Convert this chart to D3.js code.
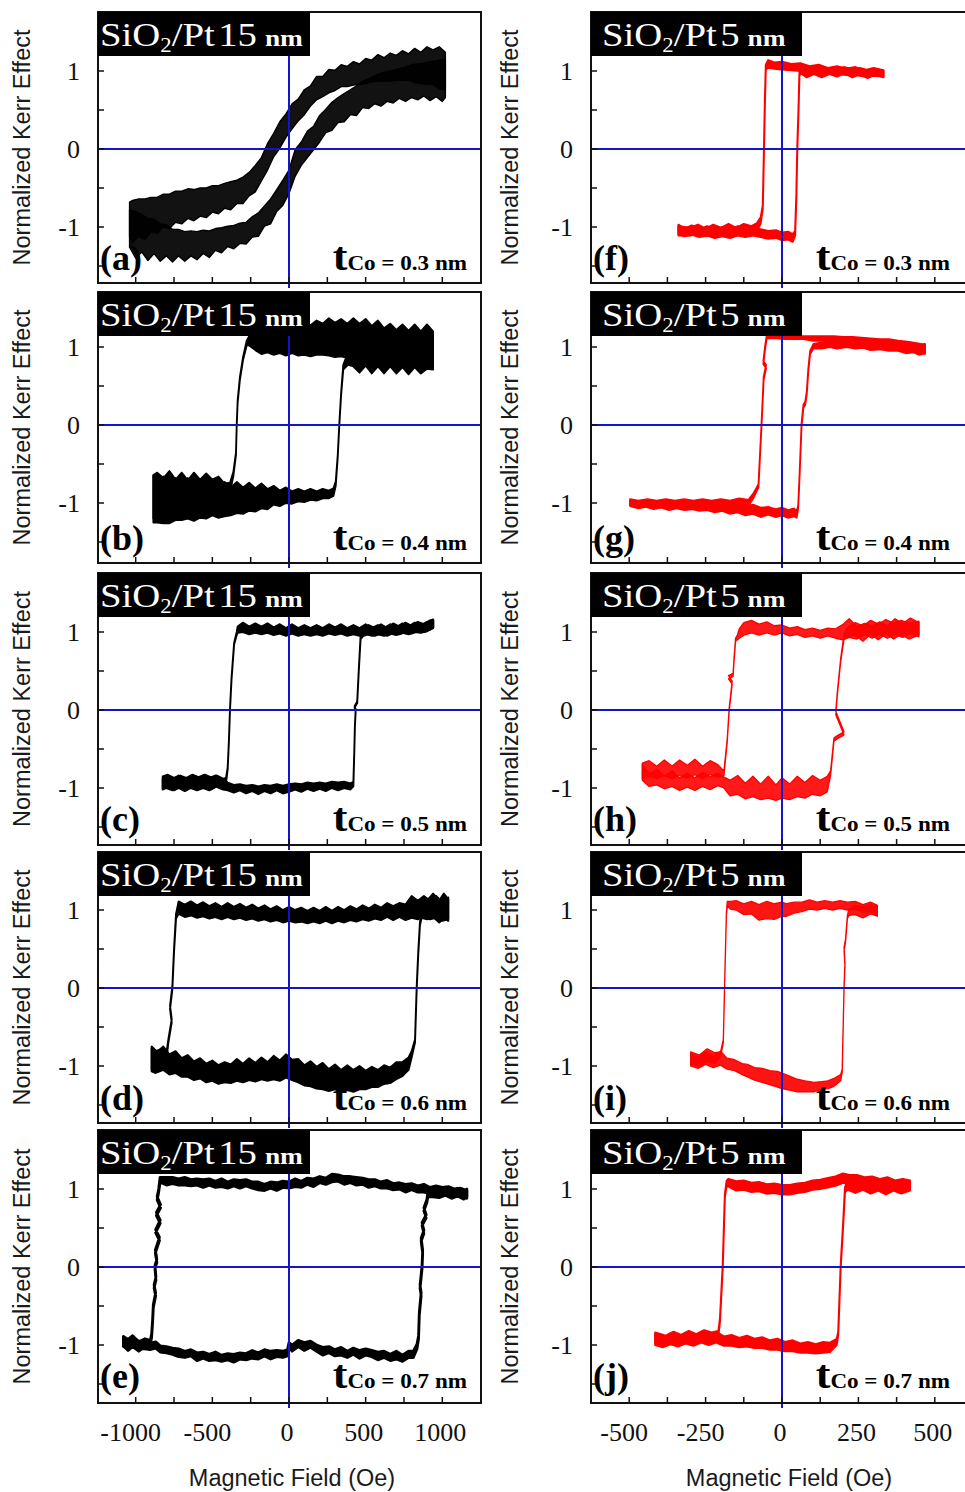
<!DOCTYPE html>
<html><head><meta charset="utf-8">
<script src="https://cdn.jsdelivr.net/npm/d3@7"></script>
<style>body{margin:0;background:#fff}svg{display:block}</style>
</head><body><svg id="c" width="965" height="1492"></svg>
<script>
// ---- data: each branch point = [field (Oe), Kerr signal, noise half-width] ----
const aAsc=[[-1040,-1.02,0.24],[-1000,-1.1,0.3],[-960,-1.08,0.24],[-920,-1.16,0.27],[-880,-1.12,0.22],[-840,-1.2,0.24],[-800,-1.17,0.2],[-760,-1.24,0.21],[-720,-1.2,0.17],[-680,-1.25,0.19],[-640,-1.21,0.16],[-600,-1.24,0.18],[-560,-1.19,0.15],[-520,-1.22,0.17],[-480,-1.16,0.14],[-440,-1.17,0.16],[-400,-1.12,0.13],[-360,-1.13,0.15],[-320,-1.08,0.13],[-280,-1.08,0.14],[-240,-1.0,0.13],[-200,-0.97,0.15],[-160,-0.86,0.13],[-120,-0.8,0.16],[-80,-0.66,0.14],[-40,-0.56,0.16],[0,-0.42,0.15],[40,-0.18,0.17],[80,-0.06,0.15],[120,0.06,0.17],[160,0.14,0.15],[200,0.26,0.17],[240,0.36,0.15],[280,0.42,0.18],[320,0.5,0.16],[360,0.53,0.18],[400,0.6,0.16],[440,0.62,0.19],[480,0.7,0.17],[520,0.71,0.19],[560,0.76,0.18],[600,0.76,0.21],[640,0.8,0.19],[680,0.8,0.21],[720,0.84,0.19],[760,0.83,0.22],[800,0.87,0.21],[840,0.86,0.23],[880,0.89,0.21],[920,0.87,0.25],[960,0.9,0.23],[1000,0.88,0.27],[1020,0.9,0.24]];
const aDesc=[[1020,1.0,0.24],[980,1.04,0.27],[940,1.05,0.22],[900,1.07,0.24],[860,1.04,0.2],[820,1.07,0.22],[780,1.05,0.17],[740,1.07,0.19],[700,1.04,0.16],[660,1.05,0.18],[620,1.02,0.15],[580,1.04,0.17],[540,1.0,0.14],[500,1.0,0.16],[460,0.96,0.13],[420,0.97,0.15],[380,0.93,0.13],[340,0.94,0.14],[300,0.88,0.13],[260,0.87,0.15],[220,0.8,0.13],[180,0.78,0.15],[140,0.68,0.13],[100,0.6,0.16],[60,0.5,0.14],[20,0.42,0.16],[-20,0.3,0.15],[-60,0.18,0.17],[-100,0.05,0.15],[-140,-0.1,0.17],[-180,-0.26,0.15],[-220,-0.38,0.17],[-260,-0.45,0.15],[-300,-0.53,0.17],[-340,-0.55,0.15],[-380,-0.6,0.18],[-420,-0.6,0.16],[-460,-0.65,0.18],[-500,-0.64,0.17],[-540,-0.69,0.19],[-580,-0.68,0.18],[-620,-0.72,0.2],[-660,-0.7,0.19],[-700,-0.75,0.21],[-740,-0.74,0.2],[-780,-0.8,0.22],[-820,-0.79,0.21],[-860,-0.85,0.23],[-900,-0.84,0.22],[-940,-0.9,0.26],[-980,-0.88,0.24],[-1020,-0.93,0.27],[-1040,-0.9,0.22]];

const bAsc=[[-885,-0.95,0.3],[-860,-1.0,0.25],[-820,-0.96,0.3],[-780,-1.02,0.24],[-740,-0.95,0.27],[-700,-1.0,0.22],[-660,-0.94,0.26],[-620,-1.01,0.22],[-580,-0.95,0.24],[-540,-1.0,0.2],[-500,-0.94,0.22],[-460,-0.99,0.2],[-420,-0.95,0.22],[-380,-0.98,0.18],[-340,-0.93,0.2],[-300,-0.97,0.17],[-260,-0.92,0.18],[-220,-0.96,0.15],[-180,-0.91,0.16],[-140,-0.95,0.13],[-100,-0.9,0.12],[-60,-0.94,0.1],[-20,-0.9,0.1],[20,-0.93,0.08],[60,-0.9,0.08],[100,-0.92,0.07],[140,-0.89,0.07],[180,-0.91,0.06],[220,-0.88,0.06],[260,-0.89,0.05],[290,-0.86,0.05],[305,-0.75,0.03],[318,-0.4,0.02],[328,0,0.02],[340,0.4,0.02],[354,0.74,0.03],[385,0.85,0.08],[420,0.95,0.2],[460,0.92,0.25],[500,0.98,0.22],[540,0.92,0.26],[580,0.97,0.22],[620,0.93,0.27],[660,0.99,0.24],[700,0.94,0.28],[740,0.98,0.24],[780,0.92,0.27],[820,0.97,0.23],[860,0.92,0.26],[900,0.96,0.24],[940,0.93,0.22]];
const bDesc=[[940,1.0,0.2],[900,1.04,0.25],[860,0.98,0.22],[820,1.03,0.26],[780,0.99,0.22],[740,1.04,0.25],[700,1.0,0.22],[660,1.05,0.25],[620,1.02,0.22],[580,1.08,0.26],[540,1.04,0.23],[500,1.1,0.26],[460,1.06,0.24],[420,1.12,0.25],[380,1.08,0.22],[340,1.12,0.24],[300,1.09,0.22],[260,1.13,0.24],[220,1.1,0.2],[180,1.12,0.22],[140,1.08,0.2],[100,1.1,0.2],[60,1.05,0.16],[20,1.07,0.15],[-20,1.03,0.14],[-60,1.05,0.13],[-100,1.02,0.12],[-140,1.05,0.12],[-180,1.02,0.11],[-220,1.06,0.1],[-260,1.08,0.06],[-276,1.05,0.03],[-300,0.85,0.02],[-320,0.6,0.02],[-335,0.3,0.02],[-341,0,0.02],[-346,-0.37,0.02],[-363,-0.63,0.03],[-385,-0.8,0.06],[-420,-0.9,0.15],[-460,-0.86,0.2],[-500,-0.92,0.22],[-540,-0.86,0.24],[-580,-0.92,0.22],[-620,-0.86,0.25],[-660,-0.93,0.22],[-700,-0.87,0.26],[-740,-0.93,0.23],[-780,-0.86,0.27],[-820,-0.92,0.24],[-860,-0.87,0.26],[-885,-0.92,0.28]];

const cAsc=[[-824,-0.93,0.08],[-790,-0.9,0.07],[-750,-0.95,0.08],[-710,-0.91,0.07],[-670,-0.95,0.08],[-630,-0.9,0.07],[-590,-0.94,0.08],[-550,-0.9,0.07],[-510,-0.94,0.08],[-470,-0.91,0.07],[-430,-0.95,0.07],[-400,-0.98,0.05],[-360,-1.01,0.05],[-320,-0.99,0.04],[-280,-1.02,0.05],[-240,-1.0,0.04],[-200,-1.03,0.05],[-160,-1.0,0.04],[-120,-1.02,0.05],[-80,-0.99,0.04],[-40,-1.02,0.05],[0,-1.0,0.05],[40,-0.98,0.04],[80,-1.0,0.05],[120,-0.97,0.04],[160,-0.99,0.05],[200,-0.97,0.04],[240,-0.99,0.05],[280,-0.96,0.04],[320,-0.98,0.05],[360,-0.96,0.04],[400,-0.98,0.04],[420,-0.95,0.03],[425,-0.6,0.01],[430,-0.2,0.01],[435,0,0.01],[428,0.04,0.01],[445,0.1,0.01],[455,0.5,0.01],[467,0.93,0.02],[485,1.0,0.05],[520,1.03,0.06],[560,1.0,0.05],[600,1.04,0.06],[640,1.0,0.05],[680,1.05,0.06],[720,1.02,0.05],[760,1.06,0.06],[800,1.03,0.05],[840,1.07,0.06],[880,1.05,0.05],[920,1.09,0.06],[941,1.11,0.05]];
const cDesc=[[941,1.1,0.05],[900,1.07,0.06],[860,1.04,0.05],[820,1.06,0.06],[780,1.02,0.05],[740,1.05,0.06],[700,1.01,0.05],[660,1.04,0.06],[620,1.0,0.05],[580,1.03,0.06],[540,1.0,0.05],[500,1.04,0.06],[460,1.0,0.05],[420,1.03,0.06],[380,1.0,0.05],[340,1.04,0.06],[300,1.01,0.05],[260,1.04,0.06],[220,1.0,0.05],[180,1.03,0.06],[140,1.0,0.05],[100,1.03,0.06],[60,1.0,0.05],[20,1.04,0.06],[-20,1.0,0.05],[-60,1.04,0.06],[-100,1.01,0.05],[-140,1.05,0.06],[-180,1.02,0.05],[-220,1.05,0.06],[-260,1.02,0.05],[-300,1.06,0.06],[-335,1.03,0.04],[-341,0.98,0.02],[-358,0.85,0.01],[-375,0.4,0.01],[-385,0,0.01],[-392,-0.4,0.01],[-400,-0.75,0.01],[-411,-0.9,0.03],[-440,-0.95,0.06],[-480,-0.91,0.07],[-520,-0.96,0.07],[-560,-0.92,0.08],[-600,-0.96,0.07],[-640,-0.92,0.08],[-680,-0.97,0.07],[-720,-0.92,0.08],[-760,-0.96,0.07],[-800,-0.92,0.08],[-824,-0.95,0.07]];

const dAsc=[[-896,-0.9,0.15],[-860,-0.95,0.13],[-820,-0.9,0.15],[-780,-0.98,0.13],[-740,-0.95,0.14],[-700,-1.02,0.12],[-660,-1.0,0.14],[-620,-1.06,0.12],[-580,-1.03,0.13],[-540,-1.09,0.12],[-500,-1.06,0.13],[-460,-1.11,0.12],[-420,-1.08,0.13],[-380,-1.1,0.12],[-340,-1.05,0.14],[-300,-1.09,0.12],[-260,-1.04,0.14],[-220,-1.08,0.12],[-180,-1.03,0.14],[-140,-1.07,0.12],[-100,-1.02,0.15],[-60,-1.06,0.13],[-20,-1.0,0.15],[20,-1.05,0.13],[60,-1.06,0.15],[100,-1.12,0.13],[140,-1.1,0.16],[180,-1.15,0.14],[220,-1.13,0.17],[260,-1.18,0.14],[300,-1.14,0.16],[340,-1.19,0.14],[380,-1.15,0.16],[420,-1.19,0.14],[460,-1.15,0.15],[500,-1.18,0.12],[540,-1.14,0.13],[580,-1.16,0.11],[620,-1.11,0.12],[660,-1.12,0.1],[700,-1.06,0.11],[740,-1.04,0.09],[780,-0.97,0.08],[800,-0.85,0.04],[822,-0.68,0.02],[833,0,0.02],[843,0.44,0.02],[854,0.82,0.02],[865,0.95,0.05],[900,1.0,0.12],[940,1.06,0.15],[980,0.98,0.14],[1010,1.05,0.16],[1039,1.0,0.14]];
const dDesc=[[1039,1.02,0.14],[1000,0.98,0.12],[960,1.04,0.14],[920,1.0,0.12],[880,1.05,0.13],[840,1.0,0.12],[800,1.04,0.14],[760,0.97,0.1],[720,1.0,0.09],[680,0.96,0.09],[640,1.0,0.09],[600,0.95,0.08],[560,0.98,0.09],[520,0.94,0.08],[480,0.97,0.09],[440,0.93,0.08],[400,0.96,0.09],[360,0.92,0.08],[320,0.95,0.09],[280,0.91,0.08],[240,0.95,0.09],[200,0.91,0.08],[160,0.94,0.09],[120,0.91,0.08],[80,0.94,0.09],[40,0.92,0.08],[0,0.95,0.09],[-40,0.92,0.08],[-80,0.96,0.09],[-120,0.93,0.08],[-160,0.97,0.09],[-200,0.94,0.08],[-240,0.98,0.09],[-280,0.95,0.08],[-320,0.99,0.09],[-360,0.96,0.08],[-400,1.0,0.09],[-440,0.96,0.08],[-480,1.0,0.09],[-520,0.97,0.08],[-560,1.01,0.09],[-600,0.98,0.08],[-640,1.02,0.09],[-680,0.99,0.08],[-720,1.03,0.08],[-737,0.92,0.03],[-750,0.48,0.02],[-761,0,0.02],[-776,-0.25,0.02],[-765,-0.42,0.02],[-787,-0.68,0.02],[-798,-0.85,0.04],[-830,-0.9,0.12],[-870,-0.95,0.14],[-896,-0.92,0.15]];

const eAsc=[[-1080,-0.95,0.06],[-1050,-1.0,0.07],[-1020,-0.96,0.06],[-980,-1.0,0.05],[-940,-1.0,0.05],[-907,-1.02,0.04],[-870,-1.0,0.04],[-840,-1.05,0.04],[-800,-1.06,0.04],[-760,-1.08,0.04],[-720,-1.1,0.05],[-680,-1.12,0.04],[-640,-1.1,0.04],[-600,-1.15,0.05],[-560,-1.13,0.04],[-520,-1.16,0.04],[-480,-1.14,0.05],[-440,-1.17,0.04],[-400,-1.15,0.04],[-360,-1.17,0.05],[-320,-1.14,0.04],[-280,-1.15,0.04],[-240,-1.12,0.05],[-200,-1.14,0.04],[-160,-1.1,0.04],[-120,-1.13,0.05],[-80,-1.11,0.04],[-40,-1.12,0.04],[-10,-1.1,0.04],[0,-1.0,0.03],[20,-1.04,0.04],[60,-0.98,0.04],[100,-1.02,0.05],[140,-0.99,0.04],[180,-1.04,0.04],[220,-1.08,0.05],[260,-1.06,0.04],[300,-1.1,0.04],[340,-1.08,0.05],[380,-1.12,0.04],[420,-1.08,0.04],[460,-1.12,0.05],[500,-1.09,0.04],[540,-1.11,0.04],[580,-1.14,0.05],[620,-1.12,0.04],[660,-1.16,0.04],[700,-1.13,0.05],[740,-1.17,0.04],[780,-1.12,0.04],[811,-1.12,0.04],[835,-1.02,0.03],[845,-0.9,0.02],[850,-0.6,0.02],[862,-0.35,0.02],[855,-0.25,0.02],[868,0,0.02],[872,0.2,0.02],[862,0.35,0.02],[880,0.45,0.02],[868,0.55,0.02],[895,0.65,0.02],[880,0.74,0.02],[900,0.85,0.02],[905,0.93,0.03],[940,0.95,0.05],[980,0.93,0.04],[1020,0.97,0.05],[1060,0.92,0.04],[1100,0.96,0.05],[1140,0.92,0.05],[1160,0.95,0.05]];
const eDesc=[[1160,0.93,0.05],[1120,0.97,0.04],[1080,0.95,0.05],[1040,0.99,0.04],[1000,0.97,0.05],[960,1.0,0.04],[920,0.98,0.04],[880,1.01,0.05],[840,1.0,0.04],[800,1.03,0.04],[760,1.01,0.05],[720,1.04,0.04],[680,1.03,0.04],[640,1.06,0.05],[600,1.05,0.04],[560,1.08,0.04],[520,1.07,0.05],[480,1.1,0.04],[440,1.1,0.05],[400,1.12,0.04],[360,1.11,0.05],[320,1.14,0.04],[280,1.14,0.05],[240,1.1,0.04],[200,1.12,0.04],[160,1.08,0.05],[120,1.1,0.04],[80,1.06,0.04],[40,1.08,0.05],[0,1.05,0.04],[-40,1.06,0.04],[-80,1.03,0.05],[-120,1.05,0.04],[-160,1.02,0.04],[-200,1.04,0.05],[-240,1.05,0.04],[-280,1.08,0.04],[-320,1.06,0.05],[-360,1.08,0.04],[-400,1.05,0.04],[-440,1.08,0.05],[-480,1.06,0.04],[-520,1.09,0.04],[-560,1.07,0.05],[-600,1.09,0.04],[-640,1.08,0.04],[-680,1.1,0.05],[-720,1.09,0.04],[-760,1.11,0.04],[-800,1.1,0.05],[-841,1.12,0.03],[-850,0.98,0.02],[-860,0.88,0.02],[-838,0.78,0.02],[-865,0.68,0.02],[-840,0.58,0.02],[-870,0.46,0.02],[-845,0.36,0.02],[-872,0.2,0.02],[-862,0.08,0.02],[-874,0,0.02],[-868,-0.15,0.02],[-880,-0.25,0.02],[-870,-0.35,0.02],[-885,-0.5,0.02],[-890,-0.7,0.02],[-896,-0.88,0.02],[-905,-0.97,0.03],[-940,-0.97,0.05],[-980,-1.02,0.06],[-1020,-0.95,0.07],[-1050,-0.99,0.06],[-1080,-0.96,0.06]];

const fAsc=[[-339,-1.03,0.06],[-320,-1.07,0.05],[-295,-1.04,0.06],[-270,-1.08,0.05],[-245,-1.05,0.06],[-220,-1.09,0.05],[-195,-1.06,0.06],[-170,-1.09,0.05],[-145,-1.05,0.06],[-120,-1.08,0.05],[-95,-1.05,0.06],[-70,-1.08,0.05],[-45,-1.1,0.05],[-20,-1.09,0.05],[0,-1.12,0.05],[20,-1.11,0.05],[35,-1.14,0.05],[43,-1.08,0.03],[47,-0.6,0.02],[50,0,0.02],[54,0.5,0.02],[57,0.96,0.02],[62,1.0,0.03],[80,0.97,0.05],[105,1.0,0.04],[130,0.97,0.05],[155,1.0,0.04],[180,0.98,0.05],[205,1.01,0.04],[230,0.97,0.05],[255,1.0,0.04],[280,0.96,0.05],[305,0.99,0.04],[332,0.96,0.04]];
const fDesc=[[332,0.97,0.04],[300,0.99,0.05],[270,0.97,0.04],[240,1.0,0.05],[210,0.99,0.04],[180,1.01,0.05],[150,1.0,0.04],[120,1.03,0.05],[90,1.02,0.04],[60,1.05,0.05],[30,1.05,0.04],[0,1.07,0.05],[-25,1.07,0.04],[-45,1.09,0.05],[-53,1.05,0.03],[-56,0.6,0.02],[-59,0,0.02],[-61,-0.4,0.02],[-63,-0.75,0.02],[-70,-0.92,0.04],[-82,-1.0,0.05],[-100,-1.04,0.05],[-125,-1.02,0.06],[-150,-1.06,0.05],[-175,-1.02,0.06],[-200,-1.06,0.05],[-225,-1.03,0.06],[-250,-1.07,0.05],[-275,-1.03,0.06],[-300,-1.06,0.05],[-339,-1.05,0.06]];

const gAsc=[[-497,-1.0,0.04],[-470,-1.03,0.04],[-445,-1.01,0.04],[-420,-1.04,0.04],[-395,-1.02,0.04],[-370,-1.05,0.04],[-345,-1.03,0.04],[-320,-1.05,0.04],[-295,-1.04,0.04],[-270,-1.06,0.04],[-245,-1.05,0.04],[-220,-1.08,0.04],[-195,-1.06,0.04],[-170,-1.09,0.05],[-145,-1.07,0.05],[-120,-1.1,0.06],[-95,-1.08,0.06],[-70,-1.12,0.06],[-45,-1.1,0.05],[-20,-1.13,0.05],[0,-1.11,0.05],[20,-1.14,0.05],[40,-1.12,0.05],[48,-1.15,0.04],[53,-1.05,0.02],[58,-0.6,0.02],[64,0,0.02],[70,0.24,0.02],[76,0.28,0.02],[81,0.41,0.02],[86,0.7,0.02],[92,0.93,0.02],[103,1.01,0.03],[130,1.02,0.04],[155,1.04,0.04],[180,1.02,0.04],[212,1.04,0.04],[240,1.02,0.04],[265,1.03,0.04],[290,1.0,0.04],[321,1.01,0.04],[350,0.99,0.04],[380,1.0,0.05],[405,0.97,0.05],[430,0.99,0.06],[450,0.96,0.06],[468,0.98,0.06]];
const gDesc=[[468,0.97,0.06],[440,1.0,0.05],[410,1.02,0.05],[380,1.04,0.04],[350,1.05,0.05],[320,1.06,0.04],[290,1.06,0.05],[260,1.08,0.04],[230,1.08,0.05],[200,1.09,0.04],[170,1.1,0.04],[140,1.11,0.03],[103,1.11,0.03],[70,1.12,0.02],[40,1.12,0.02],[10,1.12,0.02],[-20,1.13,0.02],[-50,1.13,0.02],[-55,1.0,0.02],[-61,0.8,0.02],[-52,0.75,0.02],[-60,0.6,0.02],[-67,0,0.02],[-77,-0.78,0.02],[-94,-0.91,0.03],[-110,-1.0,0.04],[-140,-0.99,0.05],[-170,-1.01,0.04],[-200,-0.99,0.04],[-230,-1.01,0.04],[-260,-0.99,0.04],[-290,-1.01,0.04],[-320,-0.99,0.04],[-350,-1.01,0.04],[-380,-0.99,0.04],[-410,-1.01,0.04],[-440,-0.99,0.04],[-470,-1.01,0.04],[-497,-0.99,0.04]];

const hAsc=[[-457,-0.8,0.1],[-435,-0.9,0.08],[-410,-0.86,0.1],[-385,-0.93,0.08],[-360,-0.88,0.1],[-335,-0.95,0.08],[-310,-0.9,0.09],[-285,-0.95,0.08],[-260,-0.89,0.09],[-235,-0.94,0.08],[-210,-0.89,0.08],[-190,-0.93,0.07],[-170,-1.0,0.1],[-145,-0.96,0.12],[-120,-1.04,0.1],[-95,-0.98,0.13],[-70,-1.05,0.1],[-45,-0.99,0.14],[-20,-1.06,0.1],[0,-1.0,0.13],[25,-1.05,0.1],[50,-0.98,0.13],[75,-1.03,0.1],[100,-0.96,0.12],[125,-1.0,0.1],[148,-0.95,0.1],[159,-0.81,0.03],[170,-0.38,0.02],[180,-0.35,0.02],[203,-0.3,0.02],[176,-0.04,0.02],[181,0.21,0.02],[192,0.64,0.02],[203,0.94,0.03],[214,1.0,0.06],[240,1.04,0.08],[265,0.98,0.1],[290,1.06,0.09],[315,1.0,0.1],[340,1.07,0.09],[365,1.01,0.1],[390,1.06,0.09],[415,1.01,0.1],[448,1.05,0.09]];
const hDesc=[[448,1.03,0.09],[420,1.08,0.1],[395,1.02,0.09],[370,1.07,0.1],[345,1.0,0.08],[320,1.05,0.08],[295,1.0,0.08],[270,1.04,0.07],[245,0.99,0.08],[220,1.05,0.12],[200,1.0,0.1],[175,0.98,0.06],[150,1.0,0.05],[125,0.97,0.05],[100,1.0,0.05],[75,0.98,0.05],[50,1.02,0.05],[25,1.0,0.05],[0,1.04,0.05],[-25,1.02,0.06],[-50,1.06,0.07],[-75,1.03,0.07],[-100,1.07,0.08],[-125,1.04,0.08],[-140,0.98,0.06],[-146,0.93,0.03],[-152,0.9,0.02],[-157,0.64,0.02],[-160,0.45,0.02],[-175,0.42,0.02],[-163,0.35,0.02],[-173,0,0.02],[-179,-0.38,0.02],[-190,-0.81,0.03],[-210,-0.78,0.08],[-235,-0.74,0.09],[-260,-0.8,0.08],[-285,-0.73,0.1],[-310,-0.79,0.08],[-335,-0.74,0.1],[-360,-0.8,0.08],[-385,-0.74,0.1],[-410,-0.8,0.08],[-435,-0.75,0.1],[-457,-0.78,0.1]];

const iAsc=[[-299,-0.92,0.08],[-275,-0.96,0.07],[-250,-0.9,0.08],[-225,-0.95,0.07],[-201,-0.9,0.09],[-180,-0.97,0.07],[-155,-0.99,0.07],[-130,-1.04,0.07],[-113,-1.06,0.08],[-90,-1.1,0.08],[-65,-1.12,0.09],[-40,-1.15,0.09],[-15,-1.17,0.1],[0,-1.19,0.1],[25,-1.22,0.09],[50,-1.25,0.08],[75,-1.26,0.07],[105,-1.27,0.06],[130,-1.25,0.05],[150,-1.24,0.05],[170,-1.21,0.05],[192,-1.15,0.04],[197,-1.06,0.02],[203,0,0.02],[206,0.3,0.02],[203,0.5,0.02],[208,0.61,0.02],[214,0.91,0.02],[219,0.97,0.04],[240,1.0,0.06],[265,0.97,0.07],[290,1.01,0.06],[312,0.98,0.06]];
const iDesc=[[312,1.0,0.06],[290,1.04,0.06],[265,1.02,0.05],[240,1.06,0.05],[214,1.05,0.05],[190,1.07,0.05],[165,1.05,0.05],[140,1.07,0.05],[115,1.05,0.05],[90,1.07,0.06],[65,1.04,0.06],[40,1.03,0.07],[15,1.0,0.08],[0,1.01,0.09],[-25,0.98,0.1],[-50,1.0,0.11],[-75,0.97,0.1],[-100,1.03,0.08],[-125,1.01,0.07],[-150,1.06,0.06],[-168,1.06,0.05],[-179,1.08,0.03],[-182,0.95,0.02],[-188,0,0.02],[-192,-0.68,0.02],[-201,-0.85,0.03],[-220,-0.9,0.07],[-245,-0.86,0.08],[-270,-0.93,0.07],[-299,-0.9,0.08]];

const jAsc=[[-415,-0.93,0.07],[-390,-0.97,0.06],[-365,-0.92,0.07],[-340,-0.96,0.06],[-315,-0.91,0.07],[-290,-0.95,0.06],[-265,-0.9,0.07],[-240,-0.94,0.06],[-215,-0.9,0.07],[-190,-0.95,0.06],[-165,-0.94,0.07],[-140,-0.97,0.06],[-115,-0.95,0.07],[-90,-0.98,0.06],[-65,-0.97,0.07],[-40,-1.0,0.06],[-15,-0.99,0.07],[10,-1.02,0.06],[35,-1.01,0.07],[60,-1.04,0.06],[85,-1.03,0.07],[110,-1.05,0.06],[135,-1.03,0.07],[157,-1.03,0.06],[179,-0.96,0.04],[184,-0.85,0.02],[192,0,0.02],[201,0.61,0.02],[206,0.99,0.03],[215,1.05,0.06],[240,1.02,0.07],[265,1.05,0.06],[290,1.01,0.07],[315,1.04,0.06],[340,1.0,0.07],[365,1.04,0.06],[390,1.01,0.07],[419,1.04,0.06]];
const jDesc=[[419,1.05,0.06],[395,1.07,0.06],[370,1.05,0.06],[345,1.09,0.06],[320,1.07,0.06],[295,1.1,0.06],[270,1.09,0.06],[245,1.12,0.06],[220,1.12,0.06],[200,1.14,0.06],[175,1.1,0.06],[150,1.08,0.06],[125,1.06,0.06],[100,1.05,0.06],[75,1.02,0.06],[50,1.01,0.06],[25,0.99,0.06],[0,0.99,0.06],[-25,1.01,0.06],[-50,1.0,0.06],[-75,1.03,0.06],[-100,1.02,0.06],[-125,1.05,0.06],[-150,1.04,0.06],[-175,1.08,0.05],[-181,1.08,0.03],[-187,0.91,0.02],[-194,0,0.02],[-203,-0.68,0.02],[-208,-0.85,0.03],[-230,-0.9,0.06],[-255,-0.88,0.07],[-280,-0.92,0.06],[-305,-0.89,0.07],[-330,-0.93,0.06],[-355,-0.9,0.07],[-380,-0.94,0.06],[-415,-0.91,0.07]];

// ---- labels / ticks ----
const panelLetters = ['a','b','c','d','e','f','g','h','i','j'];
const thicknesses = ['0.3','0.4','0.5','0.6','0.7'];
const ptThickness = ['15','5'];
const xTicksLeft = [-1000,-750,-500,-250,0,250,500,750,1000];
const xTicksRight = [-500,-375,-250,-125,0,125,250,375,500];
const xLabelsLeft = [-1000,-500,0,500,1000];
const xLabelsRight = [-500,-250,0,250,500];
const yTicks = [-1.5,-1,-0.5,0,0.5,1,1.5];
const yLabels = [-1,0,1];
const xTitle = 'Magnetic Field (Oe)';
const yTitle = 'Normalized Kerr Effect';

const branches = [[aAsc,aDesc],[bAsc,bDesc],[cAsc,cDesc],[dAsc,dDesc],[eAsc,eDesc],
                  [fAsc,fDesc],[gAsc,gDesc],[hAsc,hDesc],[iAsc,iDesc],[jAsc,jDesc]];

// ---- layout ----
const rowTop = [12,292,573,852,1130];
const rowBot = [283,563,845,1123,1403];
const rowZero = [149,425,710,988,1267];
const cols = [
  {frame:[98,481], dom:[-1000,1000], rng:[135.7,442.3], ticks:xTicksLeft, labels:xLabelsLeft, color:'#000000', ytitleX:22, boxW:212, boxPad:2, tcoEnd:369, fillOp:[0.93,1,1,1,1], sw:[1.4,1.8,1.9,1.9,2.8]},
  {frame:[591,975], dom:[-500,500], rng:[629.2,934.8], ticks:xTicksRight, labels:xLabelsRight, color:'#ff0000', ytitleX:510, boxW:211, boxPad:11, tcoEnd:359, fillOp:[1,1,0.9,0.92,1], sw:[2,1.8,1.3,1.3,2]}
];
const SERIF = "'Liberation Serif','Times New Roman',serif";
const SANS = "'Liberation Sans',Arial,sans-serif";
const BLUE = '#1414c8';

const svg = d3.select('#c');
svg.append('rect').attr('width',965).attr('height',1492).attr('fill','#fff');

for (let k=0;k<10;k++){
  const ci = k<5?0:1, r = k%5, C = cols[ci];
  const x = d3.scaleLinear().domain(C.dom).range(C.rng);
  const y = d3.scaleLinear().domain([-1,1]).range([rowZero[r]+78,rowZero[r]-78]);
  const top=rowTop[r], bot=rowBot[r], L=C.frame[0], R=C.frame[1];
  const g = svg.append('g');
  const clipId='clip'+k;
  g.append('clipPath').attr('id',clipId).append('rect').attr('x',L).attr('y',top).attr('width',R-L).attr('height',bot-top);

  // data
  const area = d3.area().x(d=>x(d[0])).y0(d=>y(d[1]-d[2])).y1(d=>y(d[1]+d[2]));
  const dg = g.append('g').attr('clip-path',`url(#${clipId})`);
  branches[k].forEach(br=>{
    dg.append('path').attr('d',area(br))
      .attr('fill',C.color).attr('fill-opacity',C.fillOp[r])
      .attr('stroke',C.color).attr('stroke-width',C.sw[r]).attr('stroke-linejoin','round');
  });

  // blue zero lines
  g.append('line').attr('x1',L).attr('x2',R).attr('y1',y(0)).attr('y2',y(0))
    .attr('stroke',BLUE).attr('stroke-width',2);
  g.append('line').attr('x1',x(0)).attr('x2',x(0)).attr('y1',top).attr('y2',bot+5)
    .attr('stroke',BLUE).attr('stroke-width',2);

  // ticks (inward)
  C.ticks.forEach(t=>{
    g.append('line').attr('x1',x(t)).attr('x2',x(t)).attr('y1',bot).attr('y2',bot-6)
      .attr('stroke','#111').attr('stroke-width',1.5);
  });
  yTicks.forEach(t=>{
    g.append('line').attr('x1',L).attr('x2',L+6).attr('y1',y(t)).attr('y2',y(t))
      .attr('stroke','#111').attr('stroke-width',1.5);
  });
  // frame
  g.append('rect').attr('x',L).attr('y',top).attr('width',R-L).attr('height',bot-top)
    .attr('fill','none').attr('stroke','#111').attr('stroke-width',2);

  // y tick labels
  yLabels.forEach(v=>{
    g.append('text').attr('x',L-18).attr('y',y(v)+9).attr('text-anchor','end')
      .attr('font-family',SERIF).attr('font-size',26).attr('fill','#111').text(v);
  });
  // y title
  g.append('text').attr('transform',`translate(${C.ytitleX+8},${(top+bot)/2}) rotate(-90)`)
    .attr('text-anchor','middle').attr('font-family',SANS).attr('font-size',23.5).attr('fill','#1a1a1a')
    .text(yTitle);

  // label box
  g.append('rect').attr('x',L).attr('y',top).attr('width',C.boxW).attr('height',44).attr('fill','#000');
  const bt = g.append('text').attr('transform',`translate(${L+C.boxPad},${top+34}) scale(1.14,1)`)
    .attr('font-family',SERIF).attr('fill','#fff');
  bt.append('tspan').attr('font-size',34).text('SiO');
  bt.append('tspan').attr('font-size',20).attr('dy',6).text('2');
  bt.append('tspan').attr('font-size',34).attr('dy',-6).text('/Pt');
  bt.append('tspan').attr('font-size',34).attr('dx',3).text(ptThickness[ci]);
  bt.append('tspan').attr('font-size',24).attr('font-weight','bold').attr('dx',7).text('nm');

  // panel letter
  g.append('text').attr('x',L+2).attr('y',top+258).attr('font-family',SERIF)
    .attr('font-weight','bold').attr('font-size',36).attr('fill','#000')
    .text('('+panelLetters[k]+')');
  // t_Co annotation
  const tt = g.append('text').attr('transform',`translate(${L+C.tcoEnd},${top+258}) scale(1.1,1)`)
    .attr('text-anchor','end').attr('font-family',SERIF).attr('font-weight','bold').attr('fill','#000');
  tt.append('tspan').attr('font-size',40).text('t');
  tt.append('tspan').attr('font-size',21).text('Co = '+thicknesses[r]+' nm');

  // bottom row: x tick labels + title
  if (r===4){
    C.labels.forEach(v=>{
      g.append('text').attr('x',x(v)-(v<0?5:2)).attr('y',bot+38).attr('text-anchor','middle')
        .attr('font-family',SERIF).attr('font-size',26).attr('fill','#111').text(v);
    });
    g.append('text').attr('x',ci===0?292:789).attr('y',1486).attr('text-anchor','middle')
      .attr('font-family',SANS).attr('font-size',23.5).attr('fill','#1a1a1a').text(xTitle);
  }
}
</script>
</body></html>
